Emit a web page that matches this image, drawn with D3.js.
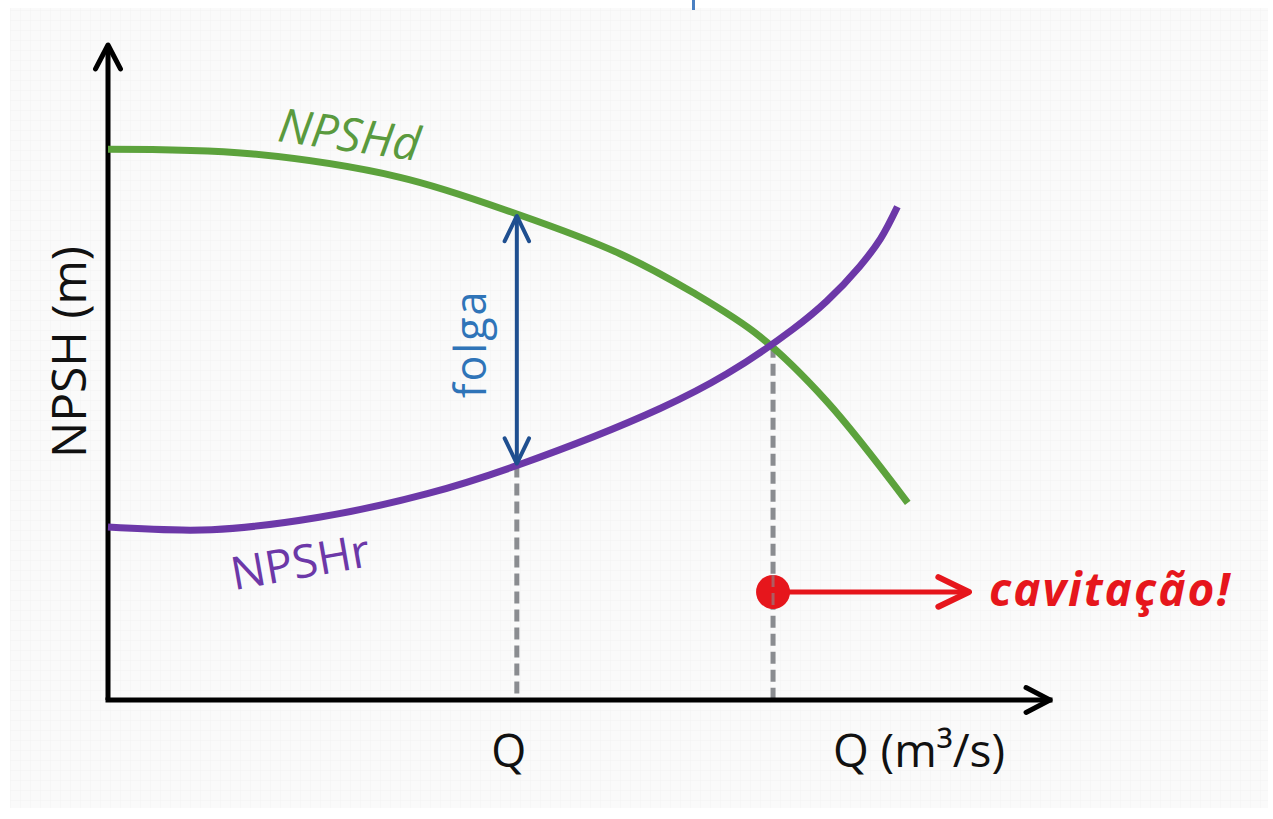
<!DOCTYPE html>
<html>
<head>
<meta charset="utf-8">
<script src="https://cdn.jsdelivr.net/npm/d3@7"></script>
<style>
  html, body { margin: 0; padding: 0; background: #ffffff; }
  svg { display: block; }
  text { font-family: "Open Sans", "DejaVu Sans", sans-serif; }
</style>
</head>
<body>
<svg id="chart" width="1273" height="819"></svg>
<script>
//Values (Q and NPSH in arbitrary units, 0..10)
const NPSHD_Q = [0, 1.51, 3.10, 4.34, 5.44, 6.21, 6.92, 7.63, 8.49];
const NPSHD_H = [8.41, 8.34, 7.98, 7.42, 6.81, 6.22, 5.55, 4.56, 3.01];
const NPSHR_Q = [0, 1.10, 2.24, 3.39, 4.34, 5.86, 6.57, 7.27, 7.63, 7.98, 8.20, 8.38];
const NPSHR_H = [2.64, 2.60, 2.79, 3.15, 3.58, 4.45, 4.98, 5.66, 6.09, 6.62, 7.04, 7.53];
const Q_OPER = 4.34;              //operating flow, where the "folga" is shown
const FOLGA_H = [7.42, 3.58];     //NPSHd and NPSHr at Q_OPER
const Q_CAV = 7.06;               //intersection of the two curves
const H_CAV = 5.41;
const CAV_ARROW_Q = [7.06, 9.14]; //red arrow from the dot towards "cavitação!"
const CAV_ARROW_H = 1.65;
const TICK_LABELS = ["Q"];
const X_TITLE = "Q (m³/s)";
const Y_TITLE = "NPSH (m)";

const GREEN = "#5ca23c";
const PURPLE = "#6c38a8";
const BLUE_DARK = "#1f4f90";
const BLUE_TEXT = "#2f74b8";
const RED = "#e6161c";
const GREY = "#8a8c90";

const svg = d3.select("#chart");

//Faint grid paper background
const defs = svg.append("defs");
const pat = defs.append("pattern")
	.attr("id", "paper")
	.attr("width", 10)
	.attr("height", 10)
	.attr("patternUnits", "userSpaceOnUse");
pat.append("rect").attr("width", 10).attr("height", 10).attr("fill", "#fafafa");
pat.append("path").attr("d", "M10 0 L0 0 L0 10").attr("fill", "none").attr("stroke", "#f2f2f2").attr("stroke-width", 1);
svg.append("rect")
	.attr("x", 10).attr("y", 8)
	.attr("width", 1258).attr("height", 800)
	.attr("fill", "url(#paper)");

//small blue mark at the top edge
svg.append("rect")
	.attr("x", 692).attr("y", 0)
	.attr("width", 3).attr("height", 10)
	.attr("fill", "#4a80c2");

//Scales
const x = d3.scaleLinear().domain([0, 10]).range([108, 1050]);
const y = d3.scaleLinear().domain([0, 10]).range([700, 45]);

//Draw an open chevron arrow head at (tx, ty) pointing along angle
function chevron(g, tx, ty, angle, len, spread, color, width)
{
	const a1 = angle + Math.PI - spread;
	const a2 = angle + Math.PI + spread;
	const p = d3.path();
	p.moveTo(tx + Math.cos(a1) * len, ty + Math.sin(a1) * len);
	p.lineTo(tx, ty);
	p.lineTo(tx + Math.cos(a2) * len, ty + Math.sin(a2) * len);
	g.append("path")
		.attr("d", p.toString())
		.attr("fill", "none")
		.attr("stroke", color)
		.attr("stroke-width", width)
		.attr("stroke-linecap", "round")
		.attr("stroke-linejoin", "round");
}

const g = svg.append("g");

//Dashed guide lines
g.append("line")
	.attr("x1", x(Q_OPER)).attr("x2", x(Q_OPER))
	.attr("y1", y(FOLGA_H[1])).attr("y2", y(0))
	.attr("stroke", GREY).attr("stroke-width", 5)
	.attr("stroke-dasharray", "12,6");
g.append("line")
	.attr("x1", x(Q_CAV)).attr("x2", x(Q_CAV))
	.attr("y1", y(H_CAV)).attr("y2", y(0))
	.attr("stroke", GREY).attr("stroke-width", 5)
	.attr("stroke-dasharray", "12,6");

//Axes
g.append("line")
	.attr("x1", x(0)).attr("x2", x(0))
	.attr("y1", y(0)).attr("y2", y(10))
	.attr("stroke", "#000").attr("stroke-width", 5);
g.append("line")
	.attr("x1", x(0)).attr("x2", x(10))
	.attr("y1", y(0)).attr("y2", y(0))
	.attr("stroke", "#000").attr("stroke-width", 5)
	.attr("stroke-linecap", "square");
chevron(g, x(0), y(10), -Math.PI / 2, 27, 0.48, "#000", 5);
chevron(g, x(10), y(0), 0, 27, 0.48, "#000", 5);

//Curves
const line = d3.line()
	.x(d => x(d[0]))
	.y(d => y(d[1]))
	.curve(d3.curveCatmullRom.alpha(0.5));

const npshd = NPSHD_Q.map((q, i) => [q, NPSHD_H[i]]);
const npshr = NPSHR_Q.map((q, i) => [q, NPSHR_H[i]]);

g.append("path")
	.datum(npshd)
	.attr("d", line)
	.attr("fill", "none")
	.attr("stroke", GREEN)
	.attr("stroke-width", 7);
g.append("path")
	.datum(npshr)
	.attr("d", line)
	.attr("fill", "none")
	.attr("stroke", PURPLE)
	.attr("stroke-width", 7);

//Folga double arrow
g.append("line")
	.attr("x1", x(Q_OPER)).attr("x2", x(Q_OPER))
	.attr("y1", y(FOLGA_H[0]) + 2).attr("y2", y(FOLGA_H[1]) - 2)
	.attr("stroke", BLUE_DARK).attr("stroke-width", 4);
chevron(g, x(Q_OPER), y(FOLGA_H[0]) + 2, -Math.PI / 2, 28, 0.45, BLUE_DARK, 4);
chevron(g, x(Q_OPER), y(FOLGA_H[1]) - 2, Math.PI / 2, 28, 0.45, BLUE_DARK, 4);

g.append("text")
	.attr("transform", `translate(${x(Q_OPER) - 31},${(y(FOLGA_H[0]) + y(FOLGA_H[1])) / 2 + 4}) rotate(-90)`)
	.attr("text-anchor", "middle")
	.attr("font-size", 43)
	.attr("letter-spacing", 2)
	.attr("fill", BLUE_TEXT)
	.text("folga");

//Cavitation marker
g.append("line")
	.attr("x1", x(CAV_ARROW_Q[0])).attr("x2", x(CAV_ARROW_Q[1]) - 2)
	.attr("y1", y(CAV_ARROW_H)).attr("y2", y(CAV_ARROW_H))
	.attr("stroke", RED).attr("stroke-width", 5);
chevron(g, x(CAV_ARROW_Q[1]), y(CAV_ARROW_H), 0, 34, 0.45, RED, 6);
g.append("circle")
	.attr("cx", x(Q_CAV)).attr("cy", y(CAV_ARROW_H))
	.attr("r", 17)
	.attr("fill", RED);
//dashed line shows through the dot
g.append("line")
	.attr("x1", x(Q_CAV)).attr("x2", x(Q_CAV))
	.attr("y1", y(CAV_ARROW_H) - 17).attr("y2", y(CAV_ARROW_H) + 17)
	.attr("stroke", GREY).attr("stroke-width", 3).attr("opacity", 0.6)
	.attr("stroke-dasharray", "12,6");
g.append("text")
	.attr("x", x(CAV_ARROW_Q[1]) + 20)
	.attr("y", y(CAV_ARROW_H) + 14)
	.attr("font-size", 46)
	.attr("font-weight", "bold")
	.attr("font-style", "italic")
	.attr("letter-spacing", 2)
	.attr("fill", RED)
	.text("cavitação!");

//Curve labels
g.append("text")
	.attr("transform", "translate(347,151) rotate(8)")
	.attr("text-anchor", "middle")
	.attr("font-size", 47)
	.attr("font-style", "italic")
	.attr("fill", "#5a9a3e")
	.text("NPSHd");
g.append("text")
	.attr("transform", "translate(303,578) rotate(-10)")
	.attr("text-anchor", "middle")
	.attr("font-size", 46)
	.attr("fill", PURPLE)
	.text("NPSHr");

//Axis labels
g.selectAll(".tick-label")
	.data(TICK_LABELS)
	.enter()
	.append("text")
	.attr("class", "tick-label")
	.attr("x", x(Q_OPER) - 8)
	.attr("y", y(0) + 67)
	.attr("text-anchor", "middle")
	.attr("font-size", 45)
	.attr("fill", "#111")
	.text(d => d);
g.append("text")
	.attr("x", 919)
	.attr("y", y(0) + 67)
	.attr("text-anchor", "middle")
	.attr("font-size", 46)
	.attr("fill", "#111")
	.text(X_TITLE);
g.append("text")
	.attr("transform", `translate(86,${352}) rotate(-90)`)
	.attr("text-anchor", "middle")
	.attr("font-size", 48)
	.attr("fill", "#111")
	.text(Y_TITLE);
</script>
</body>
</html>
